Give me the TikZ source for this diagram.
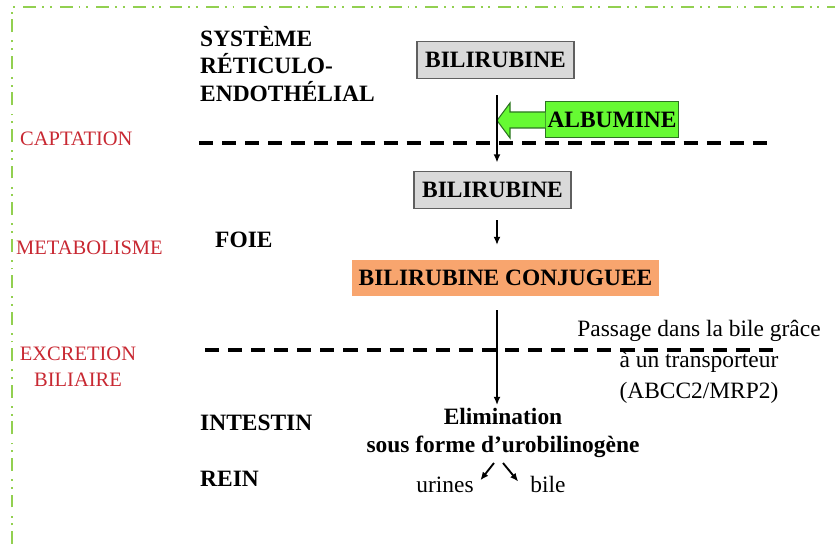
\documentclass[tikz,border=0pt]{standalone}
\usepackage{fontspec}
\setmainfont{Liberation Serif}
\usepackage{tikz}
\usetikzlibrary{arrows.meta, calc}
\definecolor{frame}{RGB}{146, 208, 80}
\definecolor{lab}{RGB}{200, 40, 50}
\definecolor{grey}{RGB}{217, 217, 217}
\definecolor{greyline}{RGB}{95, 95, 95}
\definecolor{albfill}{RGB}{102, 250, 51}
\definecolor{albline}{RGB}{45, 115, 35}
\definecolor{orange}{RGB}{248, 165, 110}

\begin{document}
\begin{tikzpicture}[x=0.03cm, y=-0.03cm,
  organ/.style={font=\fontsize{20}{23.5}\selectfont\bfseries, anchor=west, inner sep=0, align=left},
  phase/.style={font=\fontsize{17.5}{22}\selectfont, text=lab, inner sep=0, align=center},
  molbox/.style={draw=greyline, fill=grey, line width=0.9pt, font=\fontsize{20}{24}\selectfont\bfseries, minimum width=134pt, minimum height=32pt, inner sep=0},
  plain/.style={font=\fontsize{20}{26.5}\selectfont, inner sep=0, align=center},
  flow/.style={-{Latex[length=7pt, width=6pt]}, line width=1.6pt},
  limit/.style={line width=3pt, dash pattern=on 12pt off 7.7pt},
  frameline/.style={draw=frame, line width=1.6pt, dash pattern=on 11pt off 5pt on 1.6pt off 5pt on 1.6pt off 7pt}]
  \useasboundingbox (0, 0) rectangle (835, 544);

  % frame
  \draw [frameline] (12, 544) -- (12, 7) -- (835, 7);

  % phases
  \node [phase, anchor=west] (capt) at (20, 139) {CAPTATION};
  \node [phase, anchor=west] (meta) at (16, 248) {METABOLISME};
  \node [phase] (excr) at (78, 367) {EXCRETION\\BILIAIRE};

  % organs
  \node [organ] (sre) at (200, 64) {SYSTÈME\\RÉTICULO-\\ENDOTHÉLIAL};
  \node [organ] (foie) at (215, 240) {FOIE};
  \node [organ] (intestin) at (200, 423) {INTESTIN};
  \node [organ] (rein) at (200, 479) {REIN};

  % boundaries
  \coordinate (capl) at (199, 143);
  \coordinate (capr) at (772, 143);
  \coordinate (excl) at (205, 350);
  \coordinate (excr) at (778, 350);
  \draw [limit] (capl) -- (capr);
  \draw [limit] (excl) -- (excr);

  % molecules
  \node [molbox] (bil1) at (495.5, 60) {BILIRUBINE};
  \node [molbox] (bil2) at (492.5, 190) {BILIRUBINE};
  \node [fill=orange, font=\fontsize{20}{24}\selectfont\bfseries, minimum width=262pt, minimum height=31pt, inner sep=0] (conj) at (505.5, 278) {BILIRUBINE CONJUGUEE};
  \node [fill=albfill, draw=albline, line width=0.9pt, font=\fontsize{20}{24}\selectfont\bfseries, minimum width=113pt, minimum height=30pt, inner sep=0] (alb) at (612, 119.5) {ALBUMINE};

  \node [plain] (passage) at (699, 362) {Passage dans la bile grâce\\à un transporteur\\(ABCC2/MRP2)};
  \node [plain, font=\fontsize{20}{24}\selectfont\bfseries] (elim) at (503, 433) {Elimination\\sous forme d’urobilinogène};
  \node [plain, anchor=base] (urines) at (445, 492) {urines};
  \node [plain, anchor=base] (bile) at (548, 492) {bile};

  % albumine arrow
  \coordinate (col) at (497, 0);
  \filldraw [fill=albfill, draw=albline, line width=0.9pt]
    ($(alb.west)+(0, -7.5)$) -- (510, 112) -- (510, 103) -- (497, 120.5)
    -- (510, 138) -- (510, 128) -- ($(alb.west)+(0, 8.5)$);

  \draw [flow, shorten <=13.5pt, shorten >=7pt] (bil1.south -| col) -- (bil2.north -| col);
  \draw [flow, shorten <=9.5pt, shorten >=12.5pt] (bil2.south -| col) -- (conj.north -| col);
  \draw [flow, shorten <=12pt, shorten >=2.5pt] (conj.south -| col) -- (elim.north -| col);
  \draw [flow] ($(elim.south)+(-9, 5)$) -- ($(urines.north east)+(6.5, 4)$);
  \draw [flow] ($(elim.south)+(0, 5)$) -- ($(bile.north west)+(-12, 6)$);
\end{tikzpicture}
\end{document}
